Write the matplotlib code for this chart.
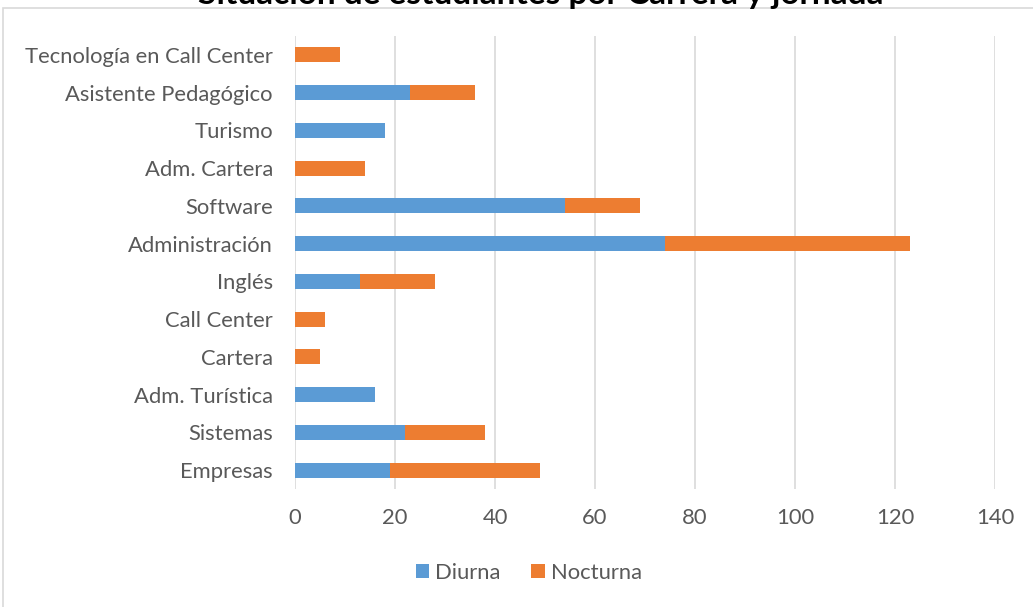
import numpy as np
import matplotlib
matplotlib.use("Agg")
import matplotlib.pyplot as plt
from matplotlib.patches import Rectangle

plt.rcParams['font.family'] = ['Lato', 'DejaVu Sans']

carreras = ["Empresas", "Sistemas", "Adm. Turística", "Cartera", "Call Center", "Inglés",
            "Administración", "Software", "Adm. Cartera", "Turismo",
            "Asistente Pedagógico", "Tecnología en Call Center"]
diurna = [19, 22, 16, 0, 0, 13, 74, 54, 0, 18, 23, 0]
nocturna = [30, 16, 0, 5, 6, 15, 49, 15, 14, 0, 13, 9]
xticks = [0, 20, 40, 60, 80, 100, 120, 140]

azul = "#5B9BD5"
naranja = "#ED7D31"
gris = "#595959"

fig = plt.figure(figsize=(10.33, 6.07), dpi=100)
ax = fig.add_axes([295/1033, 1-489/607, 700/1033, 453/607])

y = np.arange(len(carreras))
ax.barh(y, diurna, height=0.4, color=azul, label="Diurna", zorder=3)
ax.barh(y, nocturna, left=diurna, height=0.4, color=naranja, label="Nocturna", zorder=3)

ax.set_xlim(0, 140)
ax.set_ylim(-0.5, len(carreras) - 0.5)
ax.set_xticks(xticks)
ax.set_yticks(y)
ax.set_yticklabels(carreras)
ax.tick_params(axis='both', length=0, labelsize=15.8, colors=gris)
ax.tick_params(axis='y', pad=16)
ax.tick_params(axis='x', pad=14)
ax.grid(axis='x', color="#D9D9D9", linewidth=1.2, zorder=0)
for s in ax.spines.values():
    s.set_visible(False)

fig.legend(loc="center", bbox_to_anchor=(0.512, 1-573/607), ncol=2, frameon=False,
           fontsize=15.8, labelcolor=gris, handlelength=0.6, handleheight=0.6,
           columnspacing=1.4, handletextpad=0.3)

# marco del gráfico
fig.patches.append(Rectangle((3/1033, -0.1), 1.2, 1-8/607+0.1, transform=fig.transFigure,
                             fill=False, edgecolor="#D9D9D9", linewidth=1.2))

fig.text(0.523, 1-4/607, "Situación de estudiantes por Carrera y jornada",
         ha="center", va="baseline", fontsize=24, fontweight="bold", color="black")

fig.savefig("out.png", dpi=100)
